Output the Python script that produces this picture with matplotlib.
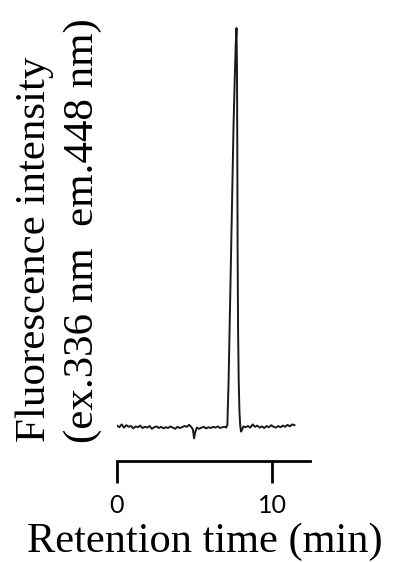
import matplotlib
matplotlib.use("Agg")
import matplotlib.pyplot as plt

# chromatogram trace (intensity in arbitrary units, peak = 100)
time_min = [
    0.00, 0.15, 0.30, 0.45, 0.60, 0.75, 0.90, 1.05, 1.20, 1.35, 1.50, 1.65,
    1.80, 1.95, 2.10, 2.25, 2.40, 2.55, 2.70, 2.85, 3.00, 3.15, 3.30, 3.45,
    3.60, 3.75, 3.90, 4.05, 4.20, 4.35, 4.50, 4.65, 4.80, 4.90, 4.97, 5.05,
    5.15, 5.30, 5.45, 5.60, 5.75, 5.90, 6.05, 6.20, 6.35, 6.50, 6.65, 6.80,
    6.95, 7.05, 7.12, 7.20, 7.28, 7.36, 7.44, 7.52, 7.60, 7.66, 7.71, 7.74,
    7.76, 7.78, 7.81, 7.85, 7.90, 7.95, 8.00, 8.06, 8.15, 8.30, 8.45, 8.60,
    8.75, 8.90, 9.05, 9.20, 9.35, 9.50, 9.65, 9.80, 9.95, 10.10, 10.25, 10.40,
    10.55, 10.70, 10.85, 11.00, 11.15, 11.30, 11.45,
]
intensity = [
    0.6, 0.2, 0.9, 0.1, 0.7, 0.3, 0.5, -0.1, 0.4, 0.2, 0.6, 0.0,
    0.3, 0.1, 0.5, -0.2, 0.2, 0.4, 0.0, 0.3, -0.1, 0.2, 0.0, 0.4,
    0.1, -0.2, 0.3, 0.0, 0.2, 0.5, 0.3, 0.8, 0.2, -0.4, -2.6, -1.0,
    0.1, -0.2, 0.1, 0.3, -0.1, 0.2, 0.0, 0.3, 0.1, 0.4, 0.0, 0.2,
    0.3, 0.1, 0.8, 12.0, 28.0, 44.0, 60.0, 76.0, 88.0, 96.0, 100.0, 90.0,
    70.0, 45.0, 25.0, 12.0, 4.0, 0.5, -0.9, -0.5, 0.4, 0.2, 0.5, 0.1,
    0.9, 0.3, 0.6, 0.1, 0.4, 0.0, 0.5, 0.2, 0.7, 0.3, 0.1, 0.5,
    0.2, 0.6, 0.3, 0.8, 0.4, 0.9, 0.7,
]
x_ticks = [0, 10]

fig = plt.figure(figsize=(3.93, 5.62), dpi=100)
ax = fig.add_axes([0.2977, 0.1797, 0.4911, 0.7847])

ax.plot(time_min, intensity, color="#1a1a1a", linewidth=1.4)
ax.set_xlim(0, 12.45)
ax.set_ylim(-8.25, 102)

for side in ["left", "top", "right"]:
    ax.spines[side].set_visible(False)
ax.spines["bottom"].set_linewidth(2.0)
ax.set_yticks([])
ax.set_xticks(x_ticks)
ax.set_xticklabels([str(t) for t in x_ticks], fontfamily="Lato")
ax.tick_params(axis="x", direction="out", length=15.8, width=2.0,
               labelsize=18, pad=8)

serif = "Liberation Serif"
fig.text(27 / 393, 1 - 552 / 562, "Retention time (min)", family=serif,
         fontsize=30.5, ha="left", va="baseline")
fig.text(45 / 393, 1 - 442 / 562, "Fluorescence intensity", family=serif,
         fontsize=31, rotation=90, rotation_mode="anchor",
         ha="left", va="baseline")
fig.text(93 / 393, 1 - 443 / 562, "(ex.336 nm  em.448 nm)", family=serif,
         fontsize=31, rotation=90, rotation_mode="anchor",
         ha="left", va="baseline")

fig.savefig("out.png", dpi=100)
